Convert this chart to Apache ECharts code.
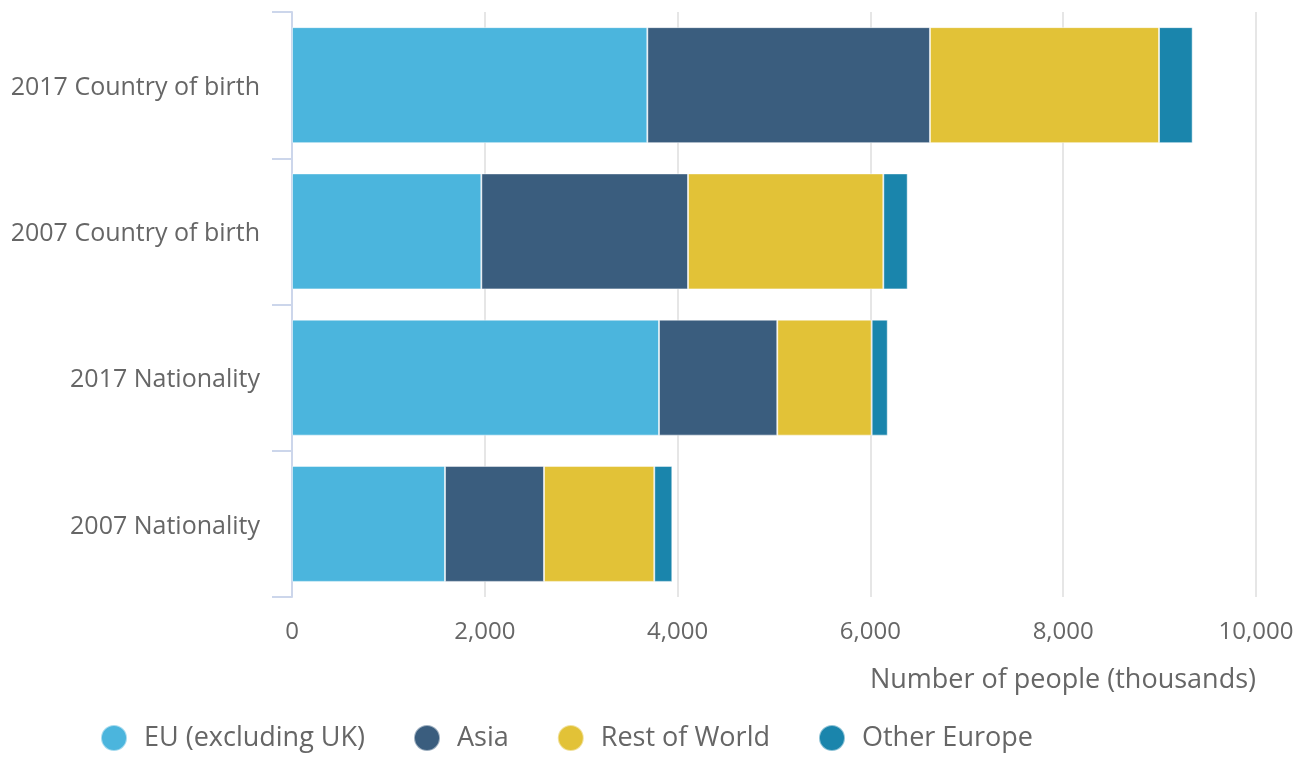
<!DOCTYPE html>
<html>
<head>
<meta charset="utf-8">
<script src="https://cdn.jsdelivr.net/npm/echarts@6/dist/echarts.min.js"></script>
<style>
html,body{margin:0;padding:0;background:#fff;}
#chart{width:1304px;height:758px;}
</style>
</head>
<body>
<div id="chart"></div>
<script>
const categories = ['2007 Nationality', '2017 Nationality', '2007 Country of birth', '2017 Country of birth'];
const euExUK = [1587, 3807, 1964, 3686];
const asia = [1027, 1227, 2144, 2932];
const restOfWorld = [1144, 979, 2026, 2376];
const otherEurope = [187, 167, 253, 349];
const xTicks = [0, 2000, 4000, 6000, 8000, 10000];

const font = '"Open Sans", "Noto Sans", sans-serif';
const colors = ['#4bb5dd', '#3a5d7e', '#e2c237', '#1a85ac'];
const seriesDefs = [
  ['EU (excluding UK)', euExUK],
  ['Asia', asia],
  ['Rest of World', restOfWorld],
  ['Other Europe', otherEurope]
];

const chart = echarts.init(document.getElementById('chart'), null, {renderer: 'canvas'});
chart.setOption({
  animation: false,
  color: colors,
  textStyle: {fontFamily: font},
  grid: {left: 292, right: 48, top: 12, bottom: 161, containLabel: false},
  legend: {
    bottom: 6,
    left: 100,
    padding: 0,
    icon: 'circle',
    itemWidth: 26,
    itemHeight: 27,
    itemGap: 48,
    textStyle: {fontSize: 27, color: '#666', fontFamily: font, padding: [0, 0, 0, 12]},
    data: seriesDefs.map(d => d[0])
  },
  xAxis: {
    type: 'value',
    min: xTicks[0],
    max: xTicks[xTicks.length - 1],
    interval: xTicks[1] - xTicks[0],
    axisLine: {show: false},
    axisTick: {show: false},
    splitLine: {show: true, lineStyle: {color: '#e6e6e6', width: 2}},
    axisLabel: {
      color: '#666', fontSize: 24, margin: 23, fontFamily: font,
      formatter: v => v.toLocaleString('en-US')
    },
    name: 'Number of people (thousands)',
    nameLocation: 'end',
    nameGap: 0,
    nameTextStyle: {
      fontSize: 27, color: '#666', fontFamily: font,
      align: 'right', verticalAlign: 'top', padding: [70, 0, 0, 0]
    }
  },
  yAxis: {
    type: 'category',
    data: categories,
    axisLine: {show: true, lineStyle: {color: '#ccd6eb', width: 2}},
    axisTick: {show: true, length: 20, lineStyle: {color: '#ccd6eb', width: 2}},
    axisLabel: {
      color: '#666', fontSize: 25, margin: 32, fontFamily: font,
      formatter: v => '{c|' + v + '}',
      rich: {c: {color: '#666', fontSize: 25, fontFamily: font, padding: [5, 0, 0, 0]}}
    },
    splitLine: {show: false}
  },
  series: seriesDefs.map(([name, data]) => ({
    name: name,
    type: 'bar',
    stack: 'total',
    data: data,
    barWidth: 116,
    itemStyle: {borderColor: 'rgba(255,255,255,0.5)', borderWidth: 1}
  }))
});
</script>
</body>
</html>
